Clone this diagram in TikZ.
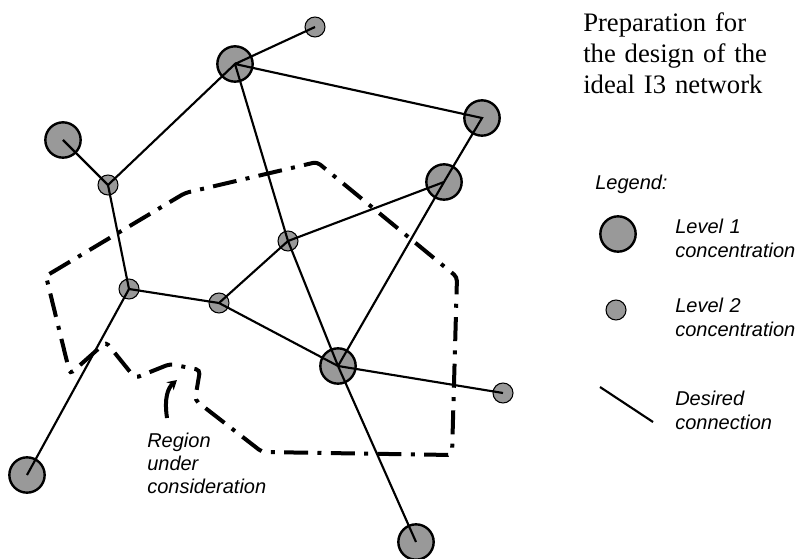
\documentclass[tikz,border=0pt]{standalone}
\usepackage{fontspec}
\setmainfont{Liberation Serif}
\setsansfont{Liberation Sans}
\usetikzlibrary{arrows.meta}
\definecolor{concfill}{gray}{0.6}
\tikzset{
  levelone/.style={circle, draw, line width=1.8pt, fill=concfill, minimum size=26.5pt, inner sep=0pt},
  leveltwo/.style={circle, draw, line width=0.8pt, fill=concfill, minimum size=15pt, inner sep=0pt},
  link/.style={line width=1.6pt},
  regionline/.style={line width=3pt, dash pattern=on 18pt off 7pt on 3pt off 7pt, rounded corners=3pt},
  legendtxt/.style={font=\fontsize{15}{18}\selectfont\sffamily\itshape, anchor=base west, inner sep=0pt, text width=150pt, align=left},
  regiontxt/.style={font=\fontsize{15}{17.25}\selectfont\sffamily\itshape, anchor=base west, inner sep=0pt, text width=150pt, align=left},
  titletxt/.style={font=\fontsize{20}{23.25}\selectfont, anchor=base west, inner sep=0pt, text width=200pt, align=left}
}

\begin{document}
\begin{tikzpicture}[x=0.75pt, y=-0.75pt]
  \useasboundingbox (0,0) rectangle (806,559);
  % Concentrations
  \node[levelone] (A) at (235,64) {};
  \node[levelone] (B) at (482,118) {};
  \node[levelone] (C) at (63,140) {};
  \node[levelone] (D) at (444,182) {};
  \node[levelone] (E) at (338,366) {};
  \node[levelone] (F) at (27,475) {};
  \node[levelone] (G) at (416,542) {};
  \node[leveltwo] (a) at (315,27) {};
  \node[leveltwo] (b) at (108,185) {};
  \node[leveltwo] (c) at (288,241) {};
  \node[leveltwo] (d) at (129,289) {};
  \node[leveltwo] (e) at (219,303) {};
  \node[leveltwo] (f) at (503,393) {};
  % Desired connections
  \draw[link] (A.center) -- (a.center) (A.center) -- (B.center) -- (D.center) -- (E.center);
  \draw[link] (C.center) -- (b.center) -- (A.center) -- (c.center) -- (E.center) -- (G.center);
  \draw[link] (b.center) -- (d.center) -- (e.center) -- (c.center) -- (D.center);
  \draw[link] (F.center) -- (d.center) (e.center) -- (E.center) -- (f.center);
  % Region under consideration
  \draw[regionline] (46,276) -- (185,193) -- (317,162) -- (457,277) -- (452,455) -- (262,452)
    -- (195,400) -- (200,370) -- (170,364) -- (135,378) -- (106,342) -- (70,374) -- cycle;
  \node[regiontxt] (region) at (147,447) {Region\\under\\consideration};
  \coordinate (regtail) at (167,418);
  \coordinate (regtip) at (177,380);
  \draw[line width=3pt, -{Stealth[length=7pt, width=8pt]}] (regtail) .. controls (164,398) and (168,388) .. (regtip);
  % Title and legend
  \node[titletxt] (title) at (583,32) {Preparation for\\the design of the\\ideal I3 network};
  \node[legendtxt] (legend) at (595,190) {Legend:};
  \node[levelone] (key1) at (618,234) {};
  \node[legendtxt] (key1txt) at (675,234) {Level 1\\concentration};
  \node[leveltwo] (key2) at (616,310) {};
  \node[legendtxt] (key2txt) at (675,313) {Level 2\\concentration};
  \coordinate (keyfrom) at (600,387);
  \coordinate (keyto) at (653,422);
  \draw[link] (keyfrom) -- (keyto);
  \node[legendtxt] (key3txt) at (675,405) {Desired\\connection};
\end{tikzpicture}
\end{document}
